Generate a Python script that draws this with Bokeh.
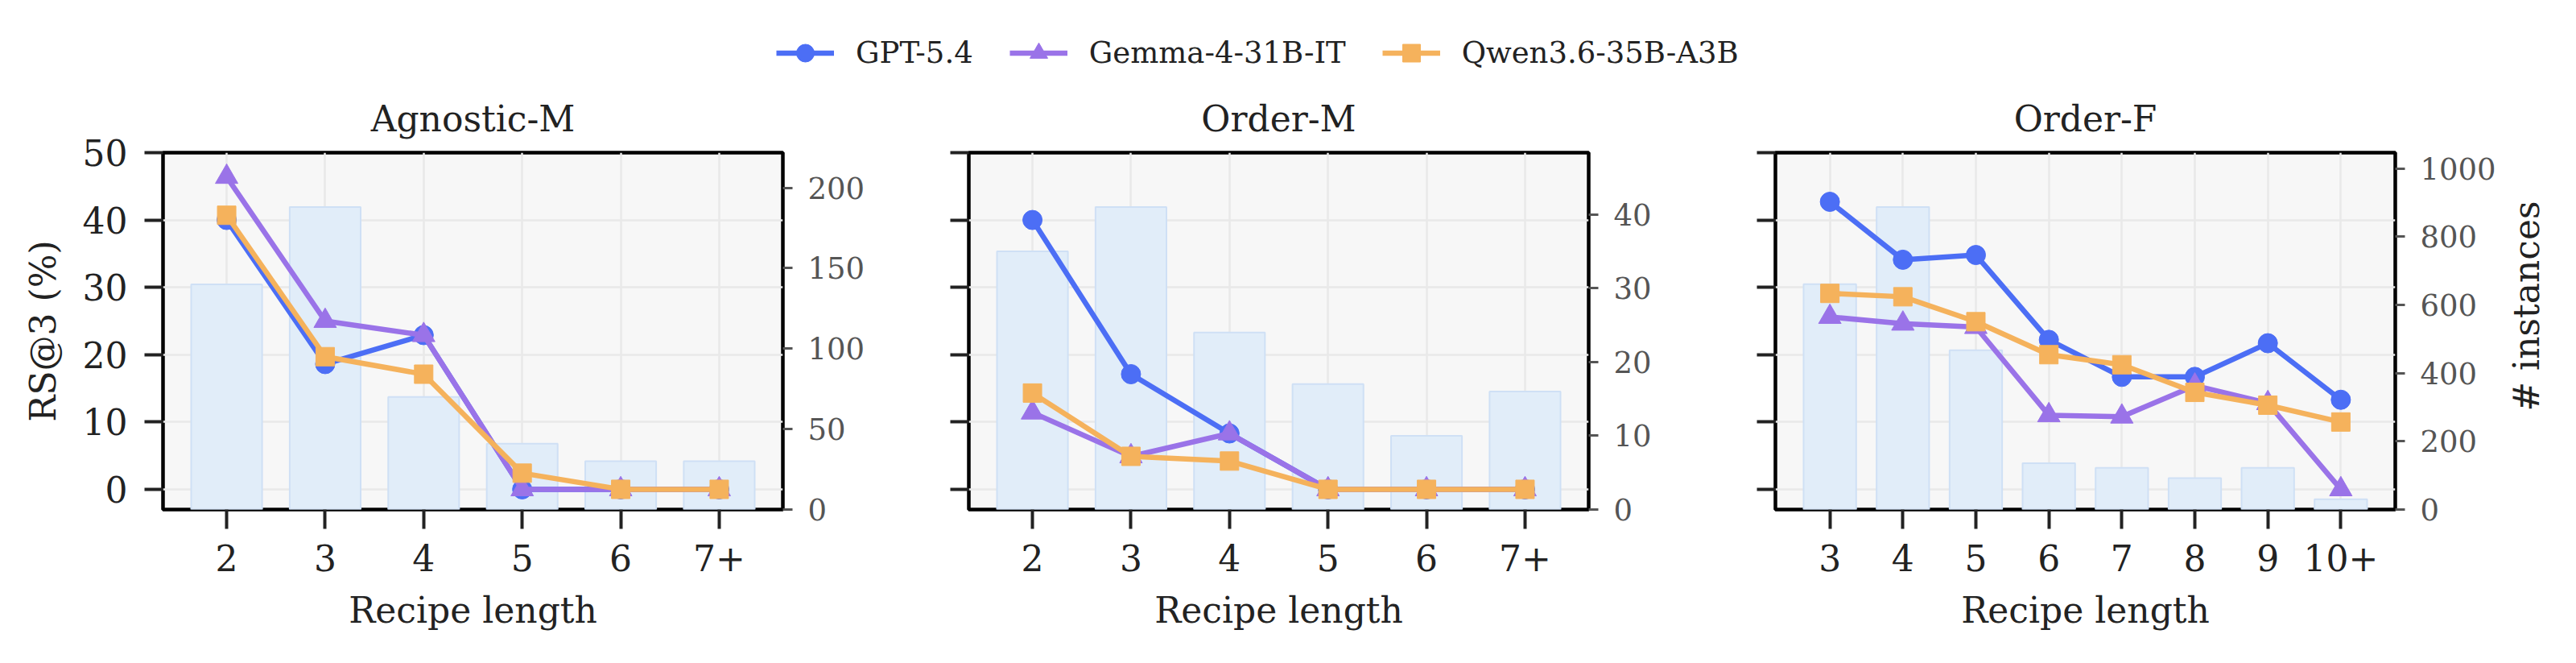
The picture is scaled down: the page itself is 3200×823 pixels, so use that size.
import math
from bokeh.plotting import figure
from bokeh.models import Range1d, LinearAxis, FixedTicker, Legend, LegendItem
from bokeh.core.properties import value
from bokeh.layouts import row, column
from bokeh.embed import file_html
from bokeh.resources import INLINE

# ---------------- data ----------------
models = ["GPT-5.4", "Gemma-4-31B-IT", "Qwen3.6-35B-A3B"]
colors = ["#4c6ef5", "#9a73e8", "#f5b25c"]
markers = ["circle", "triangle", "square"]

left_ticks = [0, 10, 20, 30, 40, 50]

cats_agnostic = ["2", "3", "4", "5", "6", "7+"]
n_agnostic = [140, 188, 70, 41, 30, 30]
gpt_agnostic = [40.0, 18.6, 22.9, 0.0, 0.0, 0.0]
gemma_agnostic = [46.4, 25.0, 22.9, 0.0, 0.0, 0.0]
qwen_agnostic = [40.7, 19.7, 17.1, 2.4, 0.0, 0.0]
rticks_agnostic = [0, 50, 100, 150, 200]

cats_orderm = ["2", "3", "4", "5", "6", "7+"]
n_orderm = [35, 41, 24, 17, 10, 16]
gpt_orderm = [40.0, 17.1, 8.3, 0.0, 0.0, 0.0]
gemma_orderm = [11.4, 4.9, 8.3, 0.0, 0.0, 0.0]
qwen_orderm = [14.3, 4.9, 4.2, 0.0, 0.0, 0.0]
rticks_orderm = [0, 10, 20, 30, 40]

cats_orderf = ["3", "4", "5", "6", "7", "8", "9", "10+"]
n_orderf = [661, 887, 467, 136, 122, 92, 122, 30]
gpt_orderf = [42.7, 34.1, 34.8, 22.2, 16.7, 16.7, 21.7, 13.3]
gemma_orderf = [25.6, 24.6, 24.1, 11.0, 10.8, 15.4, 12.8, 0.0]
qwen_orderf = [29.1, 28.6, 24.9, 20.0, 18.5, 14.4, 12.5, 10.0]
rticks_orderf = [0, 200, 400, 600, 800, 1000]

right_axis_title = "# instances"

FONT = "DejaVu Serif"
DARK = "#222222"
GRAY = "#555555"
MSIZE = {"circle": 24, "triangle": 28, "square": 23}
LW = 6.5

# layout (page has no margin in Bokeh's template)
FRAME_W, FRAME_H = 770, 443
TOP, BOTTOM = 90, 191
ROW_H = TOP + FRAME_H + BOTTOM
LEG_H = 823 - ROW_H


def make_panel(title, cats, counts, series, rticks, show_left, L, R):
    n = len(cats)
    xs = list(range(n))
    pad = 0.36 + 0.05 * (n - 1 + 0.72)
    p = figure(frame_width=FRAME_W, frame_height=FRAME_H,
               x_range=Range1d(-pad, n - 1 + pad), y_range=Range1d(-3, 50),
               output_backend="svg", toolbar_location=None,
               min_border_left=L, min_border_right=R,
               min_border_top=TOP, min_border_bottom=BOTTOM)
    p.extra_y_ranges = {"n": Range1d(0, max(counts) * 1.18)}
    p.background_fill_color = "#f7f7f7"
    p.border_fill_color = "white"
    p.outline_line_color = "black"
    p.outline_line_width = 4.5

    p.title.text = title
    p.title.align = "center"
    p.title.text_font = FONT
    p.title.text_font_size = "44px"
    p.title.text_font_style = "normal"
    p.title.text_color = DARK
    p.title.standoff = 34

    p.grid.grid_line_color = "#e9e9e9"
    p.grid.grid_line_width = 2.5

    xa = p.xaxis[0]
    xa.ticker = FixedTicker(ticks=xs)
    xa.major_label_overrides = {i: c for i, c in enumerate(cats)}
    xa.axis_line_color = None
    xa.major_tick_in = 0
    xa.major_tick_out = 24
    xa.major_tick_line_width = 4
    xa.major_tick_line_color = DARK
    xa.minor_tick_line_color = None
    xa.major_label_text_font = FONT
    xa.major_label_text_font_size = "44px"
    xa.major_label_text_color = DARK
    xa.major_label_standoff = 19
    xa.axis_label = "Recipe length"
    xa.axis_label_text_font = FONT
    xa.axis_label_text_font_size = "44px"
    xa.axis_label_text_font_style = "normal"
    xa.axis_label_text_color = DARK
    xa.axis_label_standoff = 20

    ya = p.yaxis[0]
    ya.ticker = FixedTicker(ticks=left_ticks)
    ya.axis_line_color = None
    ya.major_tick_in = 0
    ya.major_tick_out = 23
    ya.major_tick_line_width = 4
    ya.major_tick_line_color = DARK
    ya.minor_tick_line_color = None
    ya.major_label_text_font = FONT
    ya.major_label_text_font_size = "44px"
    if show_left:
        ya.major_label_text_color = DARK
        ya.major_label_standoff = 21
        ya.axis_label = "RS@3 (%)"
        ya.axis_label_text_font = FONT
        ya.axis_label_text_font_size = "44px"
        ya.axis_label_text_font_style = "normal"
        ya.axis_label_text_color = DARK
        ya.axis_label_standoff = 21
    else:
        ya.major_label_text_color = None
        ya.major_label_standoff = 0

    ra = LinearAxis(y_range_name="n", ticker=FixedTicker(ticks=rticks))
    ra.axis_line_color = None
    ra.major_tick_in = 0
    ra.major_tick_out = 12
    ra.major_tick_line_width = 3
    ra.major_tick_line_color = GRAY
    ra.minor_tick_line_color = None
    ra.major_label_text_font = FONT
    ra.major_label_text_font_size = "37px"
    ra.major_label_text_color = GRAY
    ra.major_label_standoff = 19
    p.add_layout(ra, "right")

    p.vbar(x=xs, top=counts, bottom=0, width=0.72, y_range_name="n",
           fill_color="#e1edf9", line_color="#cfe0f5", line_width=2)

    for ys, color, marker in zip(series, colors, markers):
        p.line(xs, ys, line_color=color, line_width=LW)
        p.scatter(xs, ys, marker=marker, size=MSIZE[marker],
                  fill_color=color, line_color=color, line_width=1)
    return p


p1 = make_panel("Agnostic-M", cats_agnostic, n_agnostic,
                [gpt_agnostic, gemma_agnostic, qwen_agnostic], rticks_agnostic,
                True, 202, 128)
p2 = make_panel("Order-M", cats_orderm, n_orderm,
                [gpt_orderm, gemma_orderm, qwen_orderm], rticks_orderm,
                False, 103, 127)
p3 = make_panel("Order-F", cats_orderf, n_orderf,
                [gpt_orderf, gemma_orderf, qwen_orderf], rticks_orderf,
                False, 105, 130)

# right-hand axis title, reading bottom to top, in its own narrow strip
LAB_W = 3200 - 3105
lab = figure(width=LAB_W, height=ROW_H, x_range=Range1d(0, LAB_W), y_range=Range1d(0, ROW_H),
             output_backend="svg", toolbar_location=None, min_border=0,
             x_axis_type=None, y_axis_type=None)
lab.outline_line_color = None
lab.background_fill_color = "white"
lab.border_fill_color = "white"
lab.text(x=[33], y=[ROW_H - TOP - FRAME_H / 2], text=[right_axis_title], angle=math.pi / 2,
         text_align="center", text_baseline="middle",
         text_font=value(FONT), text_font_size=value("44px"), text_color=DARK)

# ---------------- legend strip ----------------
lg = figure(width=3200, height=LEG_H, x_range=Range1d(0, 1), y_range=Range1d(1000, 1001),
            output_backend="svg", toolbar_location=None, min_border=0,
            x_axis_type=None, y_axis_type=None)
lg.outline_line_color = None
lg.background_fill_color = "white"
lg.border_fill_color = "white"
items = []
xs_l = list(range(len(cats_agnostic)))
for name, color, marker, ys in zip(models, colors, markers,
                                   [gpt_agnostic, gemma_agnostic, qwen_agnostic]):
    r1 = lg.line(xs_l, ys, line_color=color, line_width=LW)
    r2 = lg.scatter(xs_l, ys, marker=marker, size=MSIZE[marker],
                    fill_color=color, line_color=color)
    items.append(LegendItem(label=name, renderers=[r1, r2]))
leg = Legend(items=items, orientation="horizontal", location=(964, LEG_H - 65 - 27.5),
             glyph_width=72, glyph_height=55, label_standoff=27, spacing=45,
             padding=0, margin=0, border_line_color=None, background_fill_alpha=0)
leg.label_text_font = FONT
leg.label_text_font_size = "37px"
leg.label_text_color = DARK
lg.add_layout(leg, "center")

layout = column(lg, row(p1, p2, p3, lab))
open("out.html", "w").write(file_html(layout, INLINE))
